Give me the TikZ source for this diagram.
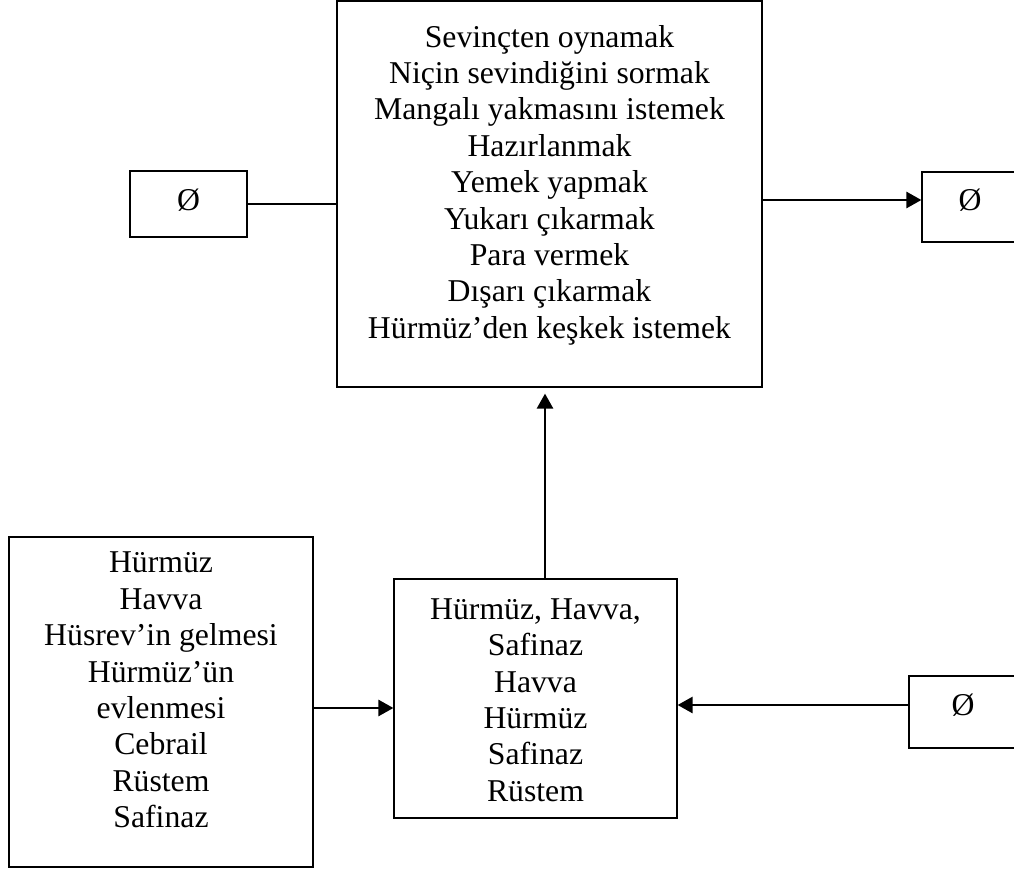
\documentclass[tikz,border=0pt]{standalone}
\usepackage{fontspec}
\setmainfont{Liberation Serif}
\usetikzlibrary{arrows.meta,positioning,calc}
\tikzset{
  blk/.style={draw,rectangle,line width=0.9pt,inner sep=0pt},
  txt/.style={align=center,font=\fontsize{23.8}{27.3}\selectfont,inner sep=0pt},
  arr/.style={-{Triangle[length=11.25pt,width=12pt]},line width=2pt},
  lnk/.style={line width=0.8pt}
}

\begin{document}
\begin{tikzpicture}[x=0.75pt,y=-0.75pt]
  \useasboundingbox (0,0) rectangle (1014,870);
  % Action box
  \node[blk,minimum width=318.75pt,minimum height=289.5pt] (act) at (549.5,194) {};
  \node[txt] (actT) at (549.5,185) {Sevinçten oynamak\\Niçin sevindiğini sormak\\Mangalı yakmasını istemek\\Hazırlanmak\\Yemek yapmak\\Yukarı çıkarmak\\Para vermek\\Dışarı çıkarmak\\Hürmüz’den keşkek istemek};

  % Empty sets left and right
  \node[blk,minimum width=87.75pt,minimum height=49.5pt] (inL) at (188.5,204) {};
  \node[txt] (inLT) at (188.5,200) {Ø};
  \node[blk,minimum width=72pt,minimum height=52.5pt] (outRA) at (970,207) {};
  \node[txt] (outRAT) at (970,200) {Ø};

  % Subject box
  \node[blk,minimum width=212.25pt,minimum height=179.25pt] (cast) at (535.5,698.5) {};
  \node[txt] (castT) at (535.5,700) {Hürmüz, Havva,\\Safinaz\\Havva\\Hürmüz\\Safinaz\\Rüstem};

  % Helpers box
  \node[blk,minimum width=228pt,minimum height=247.5pt] (help) at (161,702) {};
  \node[txt] (helpT) at (161,690) {Hürmüz\\Havva\\Hüsrev’in gelmesi\\Hürmüz’ün\\evlenmesi\\Cebrail\\Rüstem\\Safinaz};

  % Opponent box
  \node[blk,minimum width=81pt,minimum height=54pt] (outRB) at (963,712) {};
  \node[txt] (outRBT) at (963,705) {Ø};

  % Connections
  \coordinate (hIn) at (0,708);
  \coordinate (up) at (545,0);
  \draw[lnk] (inL.east) -- (inL.east -| act.west);
  \draw[arr] (act.east |- outRAT) -- (outRA.west |- outRAT);
  \draw[arr, shorten >=4.5pt] (up |- cast.north) -- (up |- act.south);
  \draw[arr] (help.east |- hIn) -- (cast.west |- hIn);
  \draw[arr] (outRB.west |- outRBT) -- (cast.east |- outRBT);
\end{tikzpicture}
\end{document}
